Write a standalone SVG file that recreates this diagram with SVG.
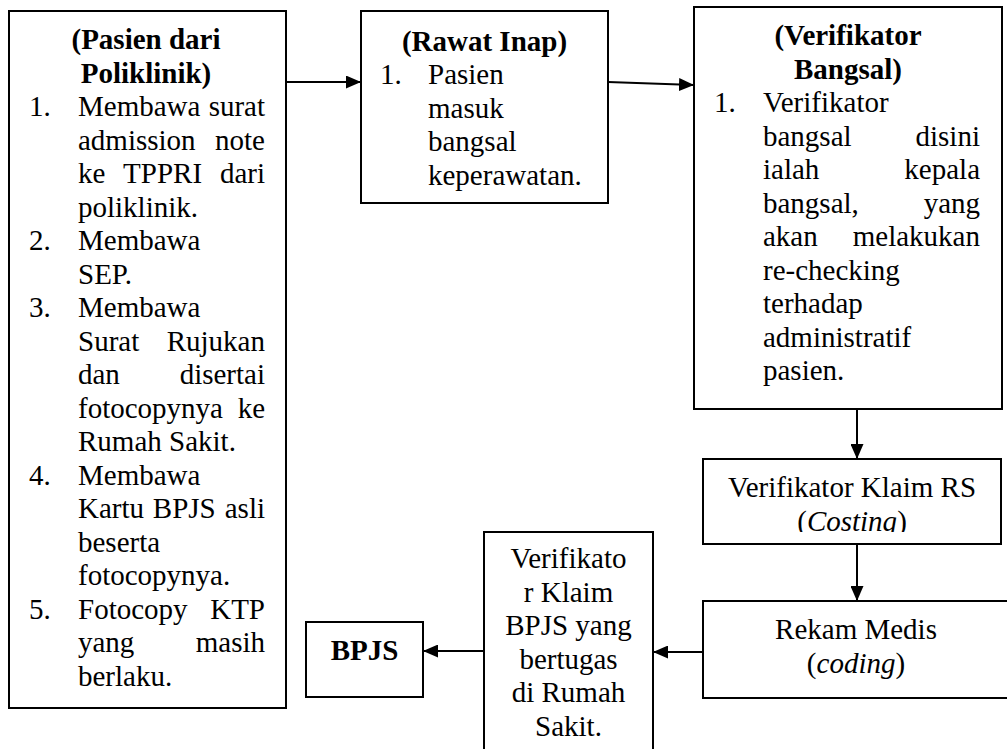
<svg xmlns="http://www.w3.org/2000/svg" width="1007" height="749" viewBox="0 0 1007 749">
<style>
.box{fill:#fff;stroke:#000;stroke-width:2}
.t{font-family:"Liberation Serif","Times New Roman",serif;font-size:29px;fill:#000}
.b{font-weight:bold}
.c{text-anchor:middle}
.e{text-anchor:end}
.i{font-style:italic}
.ln{fill:none;stroke:#000;stroke-width:2}
</style>
<defs>
<marker id="ah" viewBox="0 0 15 13" refX="15" refY="6.5" markerWidth="15" markerHeight="13" markerUnits="userSpaceOnUse" orient="auto">
<path d="M0,0 L15,6.5 L0,13 z" fill="#000"/>
</marker>
<clipPath id="clipRS"><rect x="703" y="459" width="298" height="73"/></clipPath>
</defs>
<rect width="1007" height="749" fill="#fff"/>

<g id="pasien-poliklinik">
<rect class="box" x="9" y="11" width="277" height="697"/>
<text class="t b c" x="146" y="49">(Pasien dari</text>
<text class="t b c" x="146" y="82.5">Poliklinik)</text>
<text class="t" x="29" y="116">1.</text>
<text class="t" x="78" y="116">Membawa</text><text class="t e" x="265" y="116">surat</text>
<text class="t" x="78" y="149.5">admission</text><text class="t e" x="265" y="149.5">note</text>
<text class="t" x="78" y="183">ke</text><text class="t c" x="162.6" y="183">TPPRI</text><text class="t e" x="265" y="183">dari</text>
<text class="t" x="78" y="216.5">poliklinik.</text>
<text class="t" x="29" y="250">2.</text>
<text class="t" x="78" y="250">Membawa</text>
<text class="t" x="78" y="283.5">SEP.</text>
<text class="t" x="29" y="317">3.</text>
<text class="t" x="78" y="317">Membawa</text>
<text class="t" x="78" y="350.5">Surat</text><text class="t e" x="265" y="350.5">Rujukan</text>
<text class="t" x="78" y="384">dan</text><text class="t e" x="265" y="384">disertai</text>
<text class="t" x="78" y="417.5">fotocopynya</text><text class="t e" x="265" y="417.5">ke</text>
<text class="t" x="78" y="451">Rumah Sakit.</text>
<text class="t" x="29" y="484.5">4.</text>
<text class="t" x="78" y="484.5">Membawa</text>
<text class="t" x="78" y="518">Kartu</text><text class="t c" x="184.3" y="518">BPJS</text><text class="t e" x="265" y="518">asli</text>
<text class="t" x="78" y="551.5">beserta</text>
<text class="t" x="78" y="585">fotocopynya.</text>
<text class="t" x="29" y="618.5">5.</text>
<text class="t" x="78" y="618.5">Fotocopy</text><text class="t e" x="265" y="618.5">KTP</text>
<text class="t" x="78" y="652">yang</text><text class="t e" x="265" y="652">masih</text>
<text class="t" x="78" y="685.5">berlaku.</text>
</g>

<g id="rawat-inap">
<rect class="box" x="361" y="11" width="247" height="192"/>
<text class="t b c" x="484.5" y="50.5">(Rawat Inap)</text>
<text class="t" x="380" y="84">1.</text>
<text class="t" x="428" y="84">Pasien</text>
<text class="t" x="428" y="117.5">masuk</text>
<text class="t" x="428" y="151">bangsal</text>
<text class="t" x="428" y="184.5">keperawatan.</text>
</g>

<g id="verifikator-bangsal">
<rect class="box" x="694" y="7" width="308" height="402"/>
<text class="t b c" x="848" y="45">(Verifikator</text>
<text class="t b c" x="848" y="78.5">Bangsal)</text>
<text class="t" x="714" y="112">1.</text>
<text class="t" x="763" y="112">Verifikator</text>
<text class="t" x="763" y="145.5">bangsal</text><text class="t e" x="980" y="145.5">disini</text>
<text class="t" x="763" y="179">ialah</text><text class="t e" x="980" y="179">kepala</text>
<text class="t" x="763" y="212.5">bangsal,</text><text class="t e" x="980" y="212.5">yang</text>
<text class="t" x="763" y="246">akan</text><text class="t e" x="980" y="246">melakukan</text>
<text class="t" x="763" y="279.5">re-checking</text>
<text class="t" x="763" y="313">terhadap</text>
<text class="t" x="763" y="346.5">administratif</text>
<text class="t" x="763" y="380">pasien.</text>
</g>

<g id="verifikator-klaim-rs">
<rect class="box" x="703" y="459" width="298" height="85"/>
<g clip-path="url(#clipRS)">
<text class="t c" x="852" y="497">Verifikator Klaim RS</text>
<text class="t c" x="852" y="530.5">(<tspan class="i">Costing</tspan>)</text>
</g>
</g>

<g id="rekam-medis">
<rect class="box" x="703" y="601" width="310" height="97"/>
<text class="t c" x="856" y="639">Rekam Medis</text>
<text class="t c" x="856" y="672.5">(<tspan class="i">coding</tspan>)</text>
</g>

<g id="verifikator-klaim-bpjs">
<rect class="box" x="484" y="532" width="169" height="230"/>
<text class="t c" x="568.5" y="568">Verifikato</text>
<text class="t c" x="568.5" y="601.5">r Klaim</text>
<text class="t c" x="568.5" y="635">BPJS yang</text>
<text class="t c" x="568.5" y="668.5">bertugas</text>
<text class="t c" x="568.5" y="702">di Rumah</text>
<text class="t c" x="568.5" y="735.5">Sakit.</text>
</g>

<g id="bpjs">
<rect class="box" x="306" y="622" width="117" height="75"/>
<text class="t b c" x="364.5" y="660">BPJS</text>
</g>

<g id="connectors">
<line class="ln" x1="286" y1="82" x2="361" y2="82" marker-end="url(#ah)"/>
<line class="ln" x1="608" y1="82" x2="694" y2="85" marker-end="url(#ah)"/>
<line class="ln" x1="857" y1="409" x2="857" y2="459" marker-end="url(#ah)"/>
<line class="ln" x1="857" y1="544" x2="857" y2="601" marker-end="url(#ah)"/>
<line class="ln" x1="703" y1="652" x2="653" y2="652" marker-end="url(#ah)"/>
<line class="ln" x1="484" y1="651" x2="423" y2="651" marker-end="url(#ah)"/>
</g>
</svg>
